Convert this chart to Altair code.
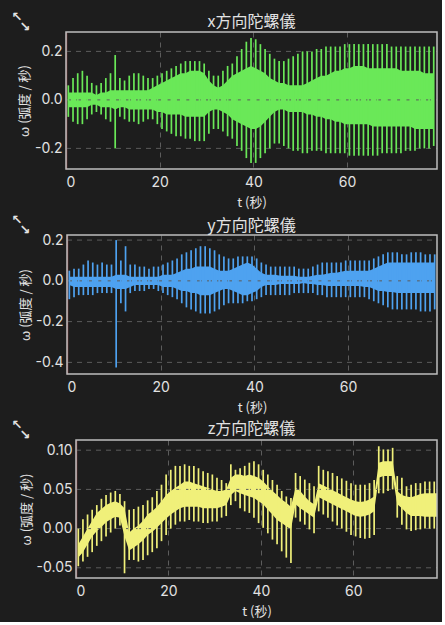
import altair as alt
import pandas as pd

# sample times of the oscillation peaks (seconds)
t_sec = [k + 0.5 for k in range(79)]

# ---- x gyroscope (rad/s): spike tops, spike bottoms, dense band top/bottom
x_hi = [0.06, 0.09, 0.11, 0.12, 0.10, 0.07, 0.06, 0.07, 0.09, 0.11,
        0.185, 0.09, 0.08, 0.10, 0.11, 0.11, 0.10, 0.09, 0.09, 0.10,
        0.11, 0.12, 0.13, 0.14, 0.15, 0.16, 0.16, 0.16, 0.16, 0.15,
        0.12, 0.10, 0.10, 0.12, 0.14, 0.15, 0.18, 0.21, 0.24, 0.255,
        0.25, 0.23, 0.21, 0.19, 0.17, 0.16, 0.16, 0.17, 0.18, 0.19,
        0.20, 0.20, 0.20, 0.21, 0.21, 0.22, 0.22, 0.22, 0.22, 0.23,
        0.23, 0.23, 0.23, 0.23, 0.23, 0.23, 0.23, 0.23, 0.23, 0.22,
        0.22, 0.22, 0.22, 0.22, 0.22, 0.22, 0.22, 0.22, 0.22]
x_lo = [-0.07, -0.09, -0.10, -0.10, -0.08, -0.06, -0.05, -0.06, -0.08, -0.09,
        -0.20, -0.07, -0.08, -0.09, -0.09, -0.10, -0.09, -0.08, -0.08, -0.10,
        -0.12, -0.13, -0.14, -0.15, -0.15, -0.16, -0.16, -0.17, -0.17, -0.17,
        -0.14, -0.12, -0.12, -0.13, -0.15, -0.16, -0.19, -0.21, -0.24, -0.26,
        -0.26, -0.24, -0.22, -0.20, -0.18, -0.18, -0.19, -0.20, -0.21, -0.21,
        -0.22, -0.22, -0.21, -0.21, -0.21, -0.22, -0.22, -0.22, -0.22, -0.22,
        -0.23, -0.23, -0.23, -0.23, -0.23, -0.23, -0.23, -0.22, -0.22, -0.22,
        -0.22, -0.22, -0.21, -0.21, -0.21, -0.20, -0.20, -0.20, -0.19]
x_bhi = [0.03, 0.03, 0.03, 0.03, 0.03, 0.03, 0.02, 0.03, 0.03, 0.04,
         0.04, 0.04, 0.04, 0.04, 0.04, 0.04, 0.04, 0.04, 0.05, 0.06,
         0.07, 0.08, 0.09, 0.10, 0.11, 0.11, 0.12, 0.12, 0.12, 0.11,
         0.08, 0.06, 0.05, 0.06, 0.08, 0.10, 0.11, 0.12, 0.13, 0.14,
         0.13, 0.12, 0.11, 0.09, 0.08, 0.07, 0.07, 0.06, 0.06, 0.06,
         0.06, 0.07, 0.08, 0.09, 0.10, 0.10, 0.11, 0.12, 0.12, 0.13,
         0.13, 0.14, 0.14, 0.14, 0.13, 0.13, 0.13, 0.13, 0.13, 0.13,
         0.13, 0.12, 0.12, 0.12, 0.12, 0.12, 0.11, 0.11, 0.11]
x_blo = [-0.03, -0.03, -0.03, -0.03, -0.03, -0.02, -0.02, -0.03, -0.03, -0.03,
         -0.04, -0.03, -0.03, -0.04, -0.04, -0.04, -0.04, -0.04, -0.04, -0.05,
         -0.05, -0.06, -0.06, -0.06, -0.06, -0.07, -0.07, -0.07, -0.07, -0.07,
         -0.05, -0.04, -0.04, -0.05, -0.06, -0.08, -0.09, -0.10, -0.11, -0.12,
         -0.12, -0.11, -0.09, -0.07, -0.05, -0.04, -0.04, -0.05, -0.05, -0.05,
         -0.05, -0.06, -0.06, -0.07, -0.07, -0.08, -0.08, -0.09, -0.09, -0.10,
         -0.10, -0.10, -0.10, -0.10, -0.10, -0.11, -0.11, -0.11, -0.11, -0.11,
         -0.11, -0.11, -0.11, -0.11, -0.12, -0.12, -0.12, -0.12, -0.12]

# ---- y gyroscope
y_hi = [0.05, 0.06, 0.06, 0.08, 0.10, 0.09, 0.08, 0.09, 0.08, 0.08,
        0.20, 0.10, 0.17, 0.08, 0.08, 0.07, 0.07, 0.06, 0.07, 0.07,
        0.08, 0.09, 0.10, 0.11, 0.13, 0.14, 0.15, 0.16, 0.17, 0.17,
        0.16, 0.15, 0.13, 0.12, 0.11, 0.11, 0.12, 0.12, 0.12, 0.12,
        0.11, 0.09, 0.08, 0.07, 0.07, 0.07, 0.07, 0.07, 0.07, 0.06,
        0.06, 0.06, 0.07, 0.08, 0.09, 0.09, 0.09, 0.09, 0.09, 0.10,
        0.10, 0.10, 0.10, 0.10, 0.10, 0.11, 0.12, 0.13, 0.14, 0.14,
        0.14, 0.13, 0.13, 0.14, 0.14, 0.14, 0.13, 0.13, 0.13]
y_lo = [-0.09, -0.08, -0.07, -0.07, -0.07, -0.07, -0.06, -0.06, -0.06, -0.06,
        -0.425, -0.11, -0.15, -0.06, -0.05, -0.05, -0.05, -0.04, -0.04, -0.05,
        -0.06, -0.07, -0.08, -0.09, -0.11, -0.13, -0.14, -0.15, -0.16, -0.16,
        -0.16, -0.15, -0.14, -0.12, -0.11, -0.11, -0.11, -0.11, -0.10, -0.10,
        -0.09, -0.08, -0.07, -0.07, -0.07, -0.07, -0.07, -0.07, -0.06, -0.06,
        -0.06, -0.06, -0.06, -0.07, -0.07, -0.08, -0.08, -0.08, -0.08, -0.08,
        -0.08, -0.08, -0.08, -0.08, -0.09, -0.10, -0.11, -0.12, -0.13, -0.14,
        -0.14, -0.14, -0.14, -0.14, -0.14, -0.15, -0.15, -0.15, -0.14]
y_bhi = [0.02, 0.02, 0.02, 0.02, 0.02, 0.02, 0.02, 0.02, 0.02, 0.02,
         0.03, 0.03, 0.03, 0.02, 0.02, 0.02, 0.02, 0.02, 0.02, 0.02,
         0.03, 0.03, 0.03, 0.04, 0.05, 0.06, 0.06, 0.07, 0.07, 0.07,
         0.07, 0.06, 0.05, 0.05, 0.05, 0.06, 0.07, 0.08, 0.09, 0.08,
         0.06, 0.04, 0.03, 0.03, 0.03, 0.025, 0.025, 0.025, 0.025, 0.02,
         0.02, 0.02, 0.025, 0.03, 0.03, 0.035, 0.04, 0.04, 0.045, 0.05,
         0.05, 0.05, 0.05, 0.05, 0.05, 0.06, 0.07, 0.08, 0.09, 0.09,
         0.09, 0.09, 0.09, 0.09, 0.09, 0.09, 0.09, 0.09, 0.09]
y_blo = [-0.02, -0.03, -0.03, -0.03, -0.03, -0.03, -0.03, -0.03, -0.03, -0.03,
         -0.04, -0.04, -0.04, -0.03, -0.02, -0.02, -0.02, -0.02, -0.02, -0.02,
         -0.03, -0.03, -0.03, -0.04, -0.05, -0.05, -0.06, -0.06, -0.07, -0.07,
         -0.07, -0.06, -0.05, -0.04, -0.04, -0.05, -0.06, -0.07, -0.07, -0.06,
         -0.05, -0.03, -0.02, -0.02, -0.02, -0.015, -0.015, -0.015, -0.015, -0.015,
         -0.01, -0.015, -0.015, -0.02, -0.02, -0.025, -0.025, -0.025, -0.025, -0.025,
         -0.025, -0.025, -0.025, -0.03, -0.03, -0.04, -0.05, -0.05, -0.055, -0.055,
         -0.06, -0.06, -0.06, -0.06, -0.06, -0.06, -0.06, -0.06, -0.06]

# ---- z gyroscope
z_hi = [0.000, 0.012, 0.018, 0.024, 0.030, 0.038, 0.043, 0.046, 0.048, 0.044,
        0.035, 0.024, 0.025, 0.028, 0.030, 0.036, 0.040, 0.048, 0.056, 0.069,
        0.075, 0.080, 0.080, 0.082, 0.080, 0.080, 0.077, 0.073, 0.071, 0.069,
        0.065, 0.062, 0.058, 0.082, 0.075, 0.077, 0.080, 0.084, 0.086, 0.082,
        0.075, 0.069, 0.062, 0.056, 0.048, 0.041, 0.039, 0.071, 0.067, 0.0625,
        0.058, 0.054, 0.080, 0.075, 0.073, 0.071, 0.067, 0.064, 0.061, 0.058,
        0.056, 0.056, 0.056, 0.058, 0.062, 0.105, 0.101, 0.101, 0.103, 0.067,
        0.065, 0.054, 0.056, 0.058, 0.058, 0.060, 0.060, 0.060, 0.060]
z_lo = [-0.048, -0.042, -0.036, -0.030, -0.022, -0.016, -0.010, -0.005, 0.000, 0.004,
        -0.057, -0.040, -0.040, -0.042, -0.040, -0.034, -0.030, -0.025, -0.016, -0.008,
        0.000, 0.005, 0.009, 0.009, 0.011, 0.009, 0.009, 0.007, 0.007, 0.009,
        0.009, 0.014, 0.016, 0.030, 0.035, 0.026, 0.022, 0.020, 0.014, 0.007,
        0.001, -0.006, -0.014, -0.020, -0.029, -0.037, -0.044, 0.014, 0.009, 0.005,
        -0.001, -0.006, 0.022, 0.018, 0.014, 0.009, 0.004, 0.000, -0.004, -0.008,
        -0.010, -0.012, -0.013, -0.012, -0.008, 0.045, 0.045, 0.048, 0.050, 0.014,
        0.005, -0.001, -0.003, -0.002, -0.001, 0.000, 0.000, 0.000, 0.000]
z_bhi = [-0.020, -0.010, 0.000, 0.010, 0.020, 0.025, 0.030, 0.033, 0.035, 0.032,
         0.026, -0.005, 0.000, 0.004, 0.010, 0.018, 0.022, 0.028, 0.035, 0.043,
         0.048, 0.052, 0.056, 0.060, 0.060, 0.058, 0.056, 0.054, 0.052, 0.050,
         0.048, 0.048, 0.050, 0.065, 0.069, 0.069, 0.067, 0.069, 0.067, 0.065,
         0.060, 0.054, 0.048, 0.043, 0.037, 0.033, 0.028, 0.052, 0.048, 0.041,
         0.035, 0.031, 0.058, 0.055, 0.052, 0.049, 0.046, 0.043, 0.040, 0.037,
         0.035, 0.034, 0.035, 0.037, 0.041, 0.084, 0.086, 0.086, 0.086, 0.048,
         0.043, 0.041, 0.040, 0.042, 0.044, 0.045, 0.045, 0.045, 0.045]
z_blo = [-0.037, -0.030, -0.020, -0.010, -0.003, 0.002, 0.008, 0.012, 0.015, 0.014,
         -0.010, -0.028, -0.024, -0.020, -0.015, -0.008, -0.004, 0.001, 0.007, 0.013,
         0.018, 0.022, 0.026, 0.028, 0.028, 0.028, 0.028, 0.026, 0.026, 0.026,
         0.026, 0.028, 0.030, 0.043, 0.048, 0.045, 0.043, 0.041, 0.039, 0.035,
         0.031, 0.024, 0.018, 0.011, 0.007, 0.003, -0.001, 0.031, 0.026, 0.022,
         0.018, 0.014, 0.040, 0.037, 0.034, 0.031, 0.028, 0.025, 0.022, 0.019,
         0.016, 0.015, 0.016, 0.018, 0.022, 0.065, 0.067, 0.067, 0.067, 0.031,
         0.026, 0.020, 0.016, 0.016, 0.016, 0.015, 0.015, 0.015, 0.015]

FONT = "Noto Sans CJK TC"
NUM_FONT = "Inter"
TXT = "#e2e2e2"
BG = "#1d1d1d"
GRID = "#5c5c5c"
FRAME = "#bdbdbd"
X_TICKS = [0, 20, 40, 60]
Y_TITLE = "ω (弧度 / 秒)"


def label_expr(fmt):
    return "replace(format(datum.value, '" + fmt + "'), '\u2212', '-')"


def icons(one, ix, iy):
    a = alt.Chart(one).mark_text(
        text="↖", font="DejaVu Sans", fontSize=13, fontWeight="bold", color=TXT,
        align="center", baseline="middle",
    ).encode(x=alt.value(ix), y=alt.value(iy))
    b = alt.Chart(one).mark_text(
        text="↘", font="DejaVu Sans", fontSize=13, fontWeight="bold", color=TXT,
        align="center", baseline="middle",
    ).encode(x=alt.value(ix + 8), y=alt.value(iy + 10))
    return a, b


def make_panel(title, hi, lo, bhi, blo, color, ydom, yvals, yfmt, w, h,
               xmax, left_gap, title_offset):
    df = pd.DataFrame({"t": t_sec, "hi": hi, "lo": lo, "bhi": bhi, "blo": blo})
    one = pd.DataFrame({"k": [0]})
    xs = alt.Scale(domain=[0, xmax], nice=False, zero=False, range=[left_gap, w])
    ys = alt.Scale(domain=ydom, nice=False, zero=False)
    xax = alt.Axis(values=X_TICKS, title="t (秒)", format="d", domain=False)
    yax = alt.Axis(values=yvals, title=Y_TITLE, labelExpr=label_expr(yfmt),
                   domain=True, domainColor="#8a4040", domainWidth=1.5,
                   grid=False, offset=-left_gap)
    gl = pd.DataFrame({"v": yvals})
    band = alt.Chart(df).mark_area(color=color, opacity=1, clip=True).encode(
        x=alt.X("t:Q", scale=xs, axis=xax),
        y=alt.Y("blo:Q", scale=ys, axis=yax),
        y2="bhi:Q",
    )
    grid = alt.Chart(gl).mark_rule(color=GRID, strokeDash=[5, 5], strokeWidth=1).encode(
        y=alt.Y("v:Q", scale=ys, axis=yax),
        x=alt.value(left_gap), x2=alt.value(w),
    )
    spikes = alt.Chart(df).mark_rule(color=color, strokeWidth=1.7, clip=True).encode(
        x=alt.X("t:Q", scale=xs, axis=xax),
        y=alt.Y("lo:Q", scale=ys, axis=yax),
        y2="hi:Q",
    )
    frame = alt.Chart(one).mark_rect(
        filled=False, stroke=FRAME, strokeWidth=1.5
    ).encode(x=alt.value(left_gap), x2=alt.value(w), y=alt.value(0), y2=alt.value(h))
    ia, ib = icons(one, -49, -15)
    return alt.layer(band, grid, spikes, frame, ia, ib).properties(
        width=w, height=h,
        title=alt.TitleParams(title, fontSize=16, font=FONT, color=TXT,
                              fontWeight="normal", offset=title_offset),
    )


p1 = make_panel("x方向陀螺儀", x_hi, x_lo, x_bhi, x_blo, "#6ae858",
                [-0.285, 0.28], [-0.2, 0.0, 0.2], ".1f", 371, 137, 79.2, 0, -19)
p2 = make_panel("y方向陀螺儀", y_hi, y_lo, y_bhi, y_blo, "#4ea2f0",
                [-0.457, 0.225], [-0.4, -0.2, 0.0, 0.2], ".1f", 371, 139, 79.0, 1, -20)
p3 = make_panel("z方向陀螺儀", z_hi, z_lo, z_bhi, z_blo, "#f0f07a",
                [-0.063, 0.113], [-0.05, 0.0, 0.05, 0.10], ".2f", 371, 138, 78.1, 10, -18)

chart = alt.concat(p1, p2, p3, columns=1, spacing=5).properties(
    padding={"left": 11, "top": 11, "right": 4, "bottom": 4},
    background=BG,
).configure_view(
    fill=BG, stroke="transparent", strokeWidth=0,
).configure_axis(
    labelColor=TXT, labelFontSize=14, labelFont=NUM_FONT, labelPadding=4,
    titleColor=TXT, titleFontSize=13, titleFont=FONT, titleFontWeight="normal",
    ticks=False, gridColor=GRID, gridDash=[5, 5], gridWidth=1,
    titlePadding=3,
).configure_axisX(
    labelPadding=6, titlePadding=7, grid=True,
)

chart.save("out.html", embed_options={"renderer": "svg", "actions": False})
